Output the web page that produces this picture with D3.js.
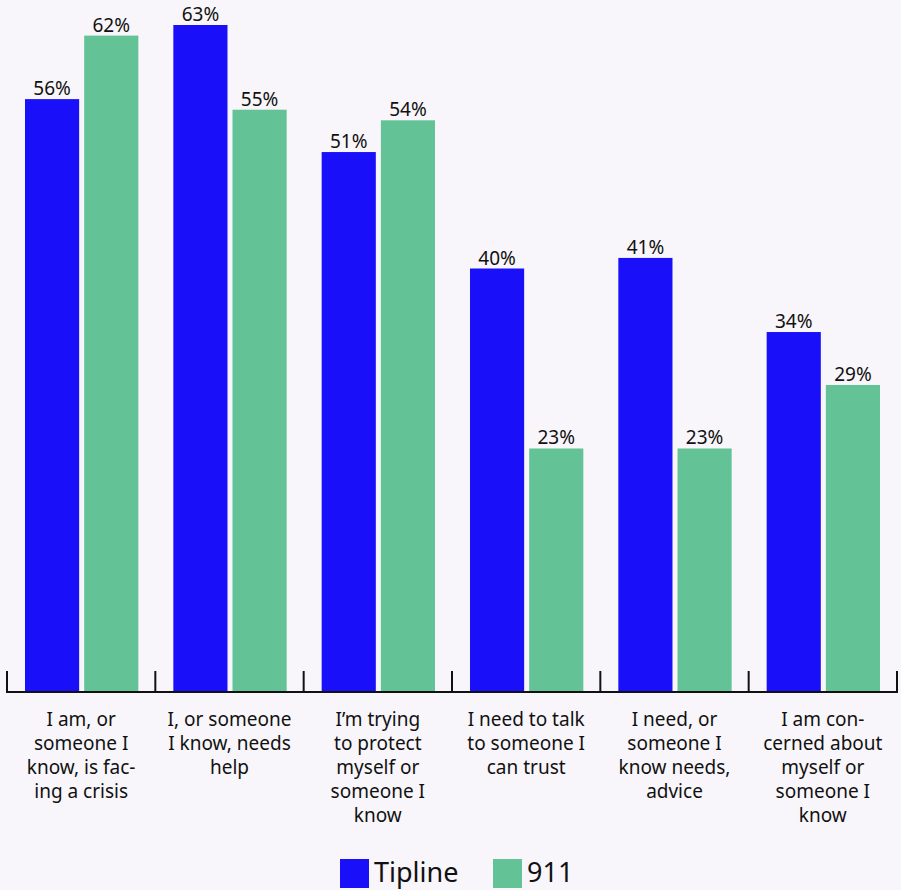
<!DOCTYPE html>
<html><head><meta charset="utf-8">
<script src="https://cdn.jsdelivr.net/npm/d3@7"></script>
<style>body{margin:0;background:#f8f6fa;}svg{display:block;}</style>
</head><body>
<script>
const categories = [
  ["I am, or","someone I","know, is fac-","ing a crisis"],
  ["I, or someone","I know, needs","help"],
  ["I\u2019m trying","to protect","myself or","someone I","know"],
  ["I need to talk","to someone I","can trust"],
  ["I need, or","someone I","know needs,","advice"],
  ["I am con-","cerned about","myself or","someone I","know"]
];
const seriesNames = ["Tipline","911"];
const tipline = [56,63,51,40,41,34];
const nine11 = [62,55,54,23,23,29];
const colors = ["#1a0ff9","#63c397"];

const W=901,H=890;
const svg=d3.select("body").append("svg").attr("width",W).attr("height",H);
svg.append("rect").attr("width",W).attr("height",H).attr("fill","#f8f6fa");
const font="'Noto Sans', 'Open Sans', sans-serif";
const x0=d3.scaleBand().domain(d3.range(categories.length)).range([7,897]).paddingInner(0).paddingOuter(0);
const x1=d3.scaleBand().domain([0,1]).range([18,x0.bandwidth()-17]).paddingInner(0.085);
const y=d3.scaleLinear().domain([0,63]).range([692,25]);

const data=categories.map((c,i)=>[tipline[i],nine11[i]]);
const g=svg.append("g");
data.forEach((vals,i)=>{
  vals.forEach((v,s)=>{
    const bx=x0(i)+x1(s);
    g.append("rect").attr("x",bx).attr("y",y(v)).attr("width",x1.bandwidth()).attr("height",y(0)-y(v)).attr("fill",colors[s]);
    g.append("text").attr("x",bx+x1.bandwidth()/2).attr("y",y(v)-4).attr("text-anchor","middle")
      .attr("font-family",font).attr("font-size",19).attr("fill","#111").text(v+"%");
  });
});
// axis
const ax=svg.append("g");
ax.append("line").attr("x1",7).attr("x2",897).attr("y1",y(0)).attr("y2",y(0)).attr("stroke","#111").attr("stroke-width",2);
d3.range(categories.length+1).forEach(i=>{
  const tx=i<categories.length?x0(i):897;
  ax.append("line").attr("x1",tx).attr("x2",tx).attr("y1",y(0)+1).attr("y2",y(0)-21).attr("stroke","#111").attr("stroke-width",2);
});
categories.forEach((lines,i)=>{
  const t=svg.append("text").attr("x",x0(i)+x0.bandwidth()/2).attr("y",726).attr("text-anchor","middle")
    .attr("font-family",font).attr("font-size",19).attr("fill","#111");
  lines.forEach((l,k)=>t.append("tspan").attr("x",x0(i)+x0.bandwidth()/2).attr("dy",k?24:0).text(l));
});
// legend
const lg=svg.append("g");
const lx=[340,493];
seriesNames.forEach((n,s)=>{
  lg.append("rect").attr("x",lx[s]).attr("y",859).attr("width",29).attr("height",29).attr("fill",colors[s]);
  lg.append("text").attr("x",lx[s]+34).attr("y",882).attr("font-family",font).attr("font-size",27).attr("fill","#111").text(n);
});
</script>
</body></html>
